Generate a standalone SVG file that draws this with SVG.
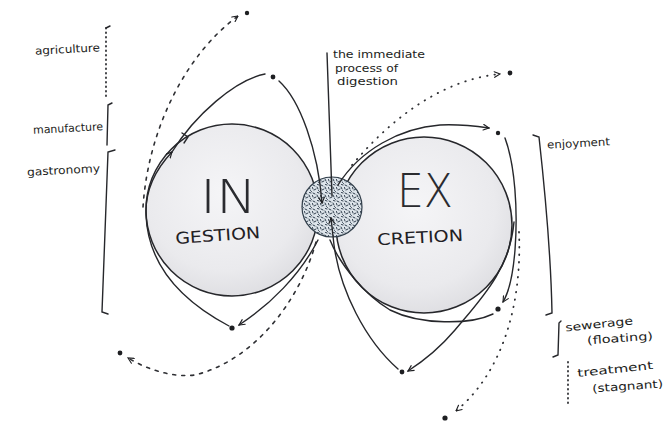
<svg xmlns="http://www.w3.org/2000/svg" width="667" height="426" viewBox="0 0 667 426">
<style>
.ln{fill:none;stroke:#26272b;stroke-width:1.4;stroke-linecap:round}
.dash{fill:none;stroke:#2e2f33;stroke-width:1.6;stroke-linecap:round;stroke-dasharray:3 6}
.dot{fill:none;stroke:#2e2f33;stroke-width:1.8;stroke-linecap:round;stroke-dasharray:0.5 7}
.pt{fill:#1e1f22}
.hw{font-family:"DejaVu Sans","Liberation Sans",sans-serif;font-size:11px;fill:#1c1d21}
.big{font-family:"DejaVu Sans","Liberation Sans",sans-serif;font-weight:200;fill:#2a2b2f}
.cap{font-family:"DejaVu Sans","Liberation Sans",sans-serif;font-size:16px;font-weight:500;fill:#1f2024}
</style>
<defs>
<marker id="ah" viewBox="0 0 10 10" refX="9" refY="5" markerWidth="7" markerHeight="7" orient="auto" markerUnits="userSpaceOnUse">
<path d="M1,1 L9,5 L1,9" fill="none" stroke="#1e1f22" stroke-width="1.6" stroke-linecap="round"/>
</marker>
<radialGradient id="gc" cx="0.45" cy="0.4" r="0.65">
<stop offset="0" stop-color="#f5f5f7"/>
<stop offset="0.7" stop-color="#eaeaed"/>
<stop offset="1" stop-color="#dcdce0"/>
</radialGradient>
<pattern id="stip" width="8" height="8" patternUnits="userSpaceOnUse">
<rect width="8" height="8" fill="#dde4ea"/>
<path d="M1,1 l2,1 M5,3 l1,2 M2,6 l2,-1 M6.5,6.5 l1,1 M5.5,0.5 l1.5,0.5 M0.5,3.5 l0.5,1.5" stroke="#2f3d4c" stroke-width="1" stroke-linecap="round"/>
</pattern>
</defs>

<g id="node-in">
<circle cx="232" cy="210" r="86" fill="url(#gc)" stroke="#26272b" stroke-width="1.5"/>
<text class="big" x="200" y="213" font-size="46" textLength="57" lengthAdjust="spacingAndGlyphs">IN</text>
<text class="cap" x="175" y="241" textLength="85" lengthAdjust="spacingAndGlyphs" transform="rotate(-4 217 233)">GESTION</text>
</g>
<g id="node-ex">
<circle cx="424" cy="225" r="88" fill="url(#gc)" stroke="#26272b" stroke-width="1.5"/>
<text class="big" x="397" y="207" font-size="46" textLength="56" lengthAdjust="spacingAndGlyphs">EX</text>
<text class="cap" x="377" y="243" textLength="86" lengthAdjust="spacingAndGlyphs" transform="rotate(-3 420 235)">CRETION</text>
</g>
<g id="node-digestion">
<circle cx="332" cy="207" r="30" fill="url(#stip)" stroke="#33404c" stroke-width="1.2"/>
</g>

<g id="labels">
<text class="hw" x="35" y="53" textLength="65" lengthAdjust="spacingAndGlyphs" transform="rotate(-3 67 50)">agriculture</text>
<text class="hw" x="33" y="132" textLength="70" lengthAdjust="spacingAndGlyphs" transform="rotate(-3 68 128)">manufacture</text>
<text class="hw" x="27" y="174" textLength="73" lengthAdjust="spacingAndGlyphs" transform="rotate(-3 63 170)">gastronomy</text>
<text class="hw" x="333" y="58" textLength="92" lengthAdjust="spacingAndGlyphs">the immediate</text>
<text class="hw" x="335" y="72" textLength="63" lengthAdjust="spacingAndGlyphs">process of</text>
<text class="hw" x="337" y="85" textLength="61" lengthAdjust="spacingAndGlyphs">digestion</text>
<text class="hw" x="547" y="147" textLength="63" lengthAdjust="spacingAndGlyphs" transform="rotate(-3 578 143)">enjoyment</text>
<text class="hw" x="565" y="328" textLength="68" lengthAdjust="spacingAndGlyphs" transform="rotate(-6 598 323)">sewerage</text>
<text class="hw" x="587" y="342" textLength="66" lengthAdjust="spacingAndGlyphs" transform="rotate(-4 620 338)">(floating)</text>
<text class="hw" x="577" y="373" textLength="76" lengthAdjust="spacingAndGlyphs" transform="rotate(-6 615 368)">treatment</text>
<text class="hw" x="592" y="390" textLength="71" lengthAdjust="spacingAndGlyphs" transform="rotate(-4 627 385)">(stagnant)</text>
</g>

<g id="brackets">
<path class="dot" d="M106,28 L106,100" style="stroke-dasharray:0.5 4"/>
<path class="ln" d="M110,26 L106,28"/>
<path class="ln" d="M112,103 L108,105 L107,145"/>
<path class="ln" d="M115,150 L108,152 L102,312 L108,314"/>
<path class="ln" d="M533,135 L539,137 C546,200 551,260 552,313 L546,315"/>
<path class="ln" d="M561,321 L559,323 L558,355 L553,357"/>
<path class="dot" d="M568,362 L568,407" style="stroke-dasharray:0.5 4"/>
</g>

<g id="connectors">
<path class="ln" d="M327,53 L332,196"/>
<path class="ln" d="M229,326 C180,300 148,265 146,215 C145,190 155,170 172,152" marker-end="url(#ah)"/>
<path class="ln" d="M172,152 C195,115 235,80 265,74"/>
<path class="ln" d="M279,81 C300,100 318,150 322,203" marker-end="url(#ah)"/>
<path class="ln" d="M318,240 C300,275 270,305 239,325" marker-end="url(#ah)"/>
<path class="ln" d="M182,133 L188,137 L184,143"/>
<path class="dash" d="M143,207 C148,130 185,55 238,16" marker-end="url(#ah)"/>
<path class="dash" d="M316,242 C300,300 255,360 195,375 C170,378 145,368 128,358" marker-end="url(#ah)"/>
<path class="dot" d="M352,165 C390,120 440,80 500,74" marker-end="url(#ah)"/>
<path class="ln" d="M338,185 C360,150 400,128 440,125 C460,124 475,126 489,128" marker-end="url(#ah)"/>
<path class="ln" d="M505,138 C515,165 518,210 515,250 C513,275 509,292 503,302" marker-end="url(#ah)"/>
<path class="ln" d="M493,314 C470,325 420,325 390,310 C365,295 340,265 330,240"/>
<path class="ln" d="M398,369 C365,340 340,290 334,245 L331,218" marker-end="url(#ah)"/>
<path class="ln" d="M514,222 C510,270 480,300 455,330 C438,350 422,362 408,371" marker-end="url(#ah)"/>
<path class="dot" d="M519,232 C522,300 505,370 456,411" marker-end="url(#ah)"/>
<circle class="pt" cx="273" cy="77" r="2.4"/>
<circle class="pt" cx="232" cy="328" r="2.6"/>
<circle class="pt" cx="247" cy="13" r="2.2"/>
<circle class="pt" cx="120" cy="353" r="2.4"/>
<circle class="pt" cx="510" cy="73" r="2.4"/>
<circle class="pt" cx="498" cy="133" r="2.2"/>
<circle class="pt" cx="498" cy="309" r="2.6"/>
<circle class="pt" cx="402" cy="372" r="2.4"/>
<circle class="pt" cx="445" cy="418" r="2.6"/>
</g>
</svg>
